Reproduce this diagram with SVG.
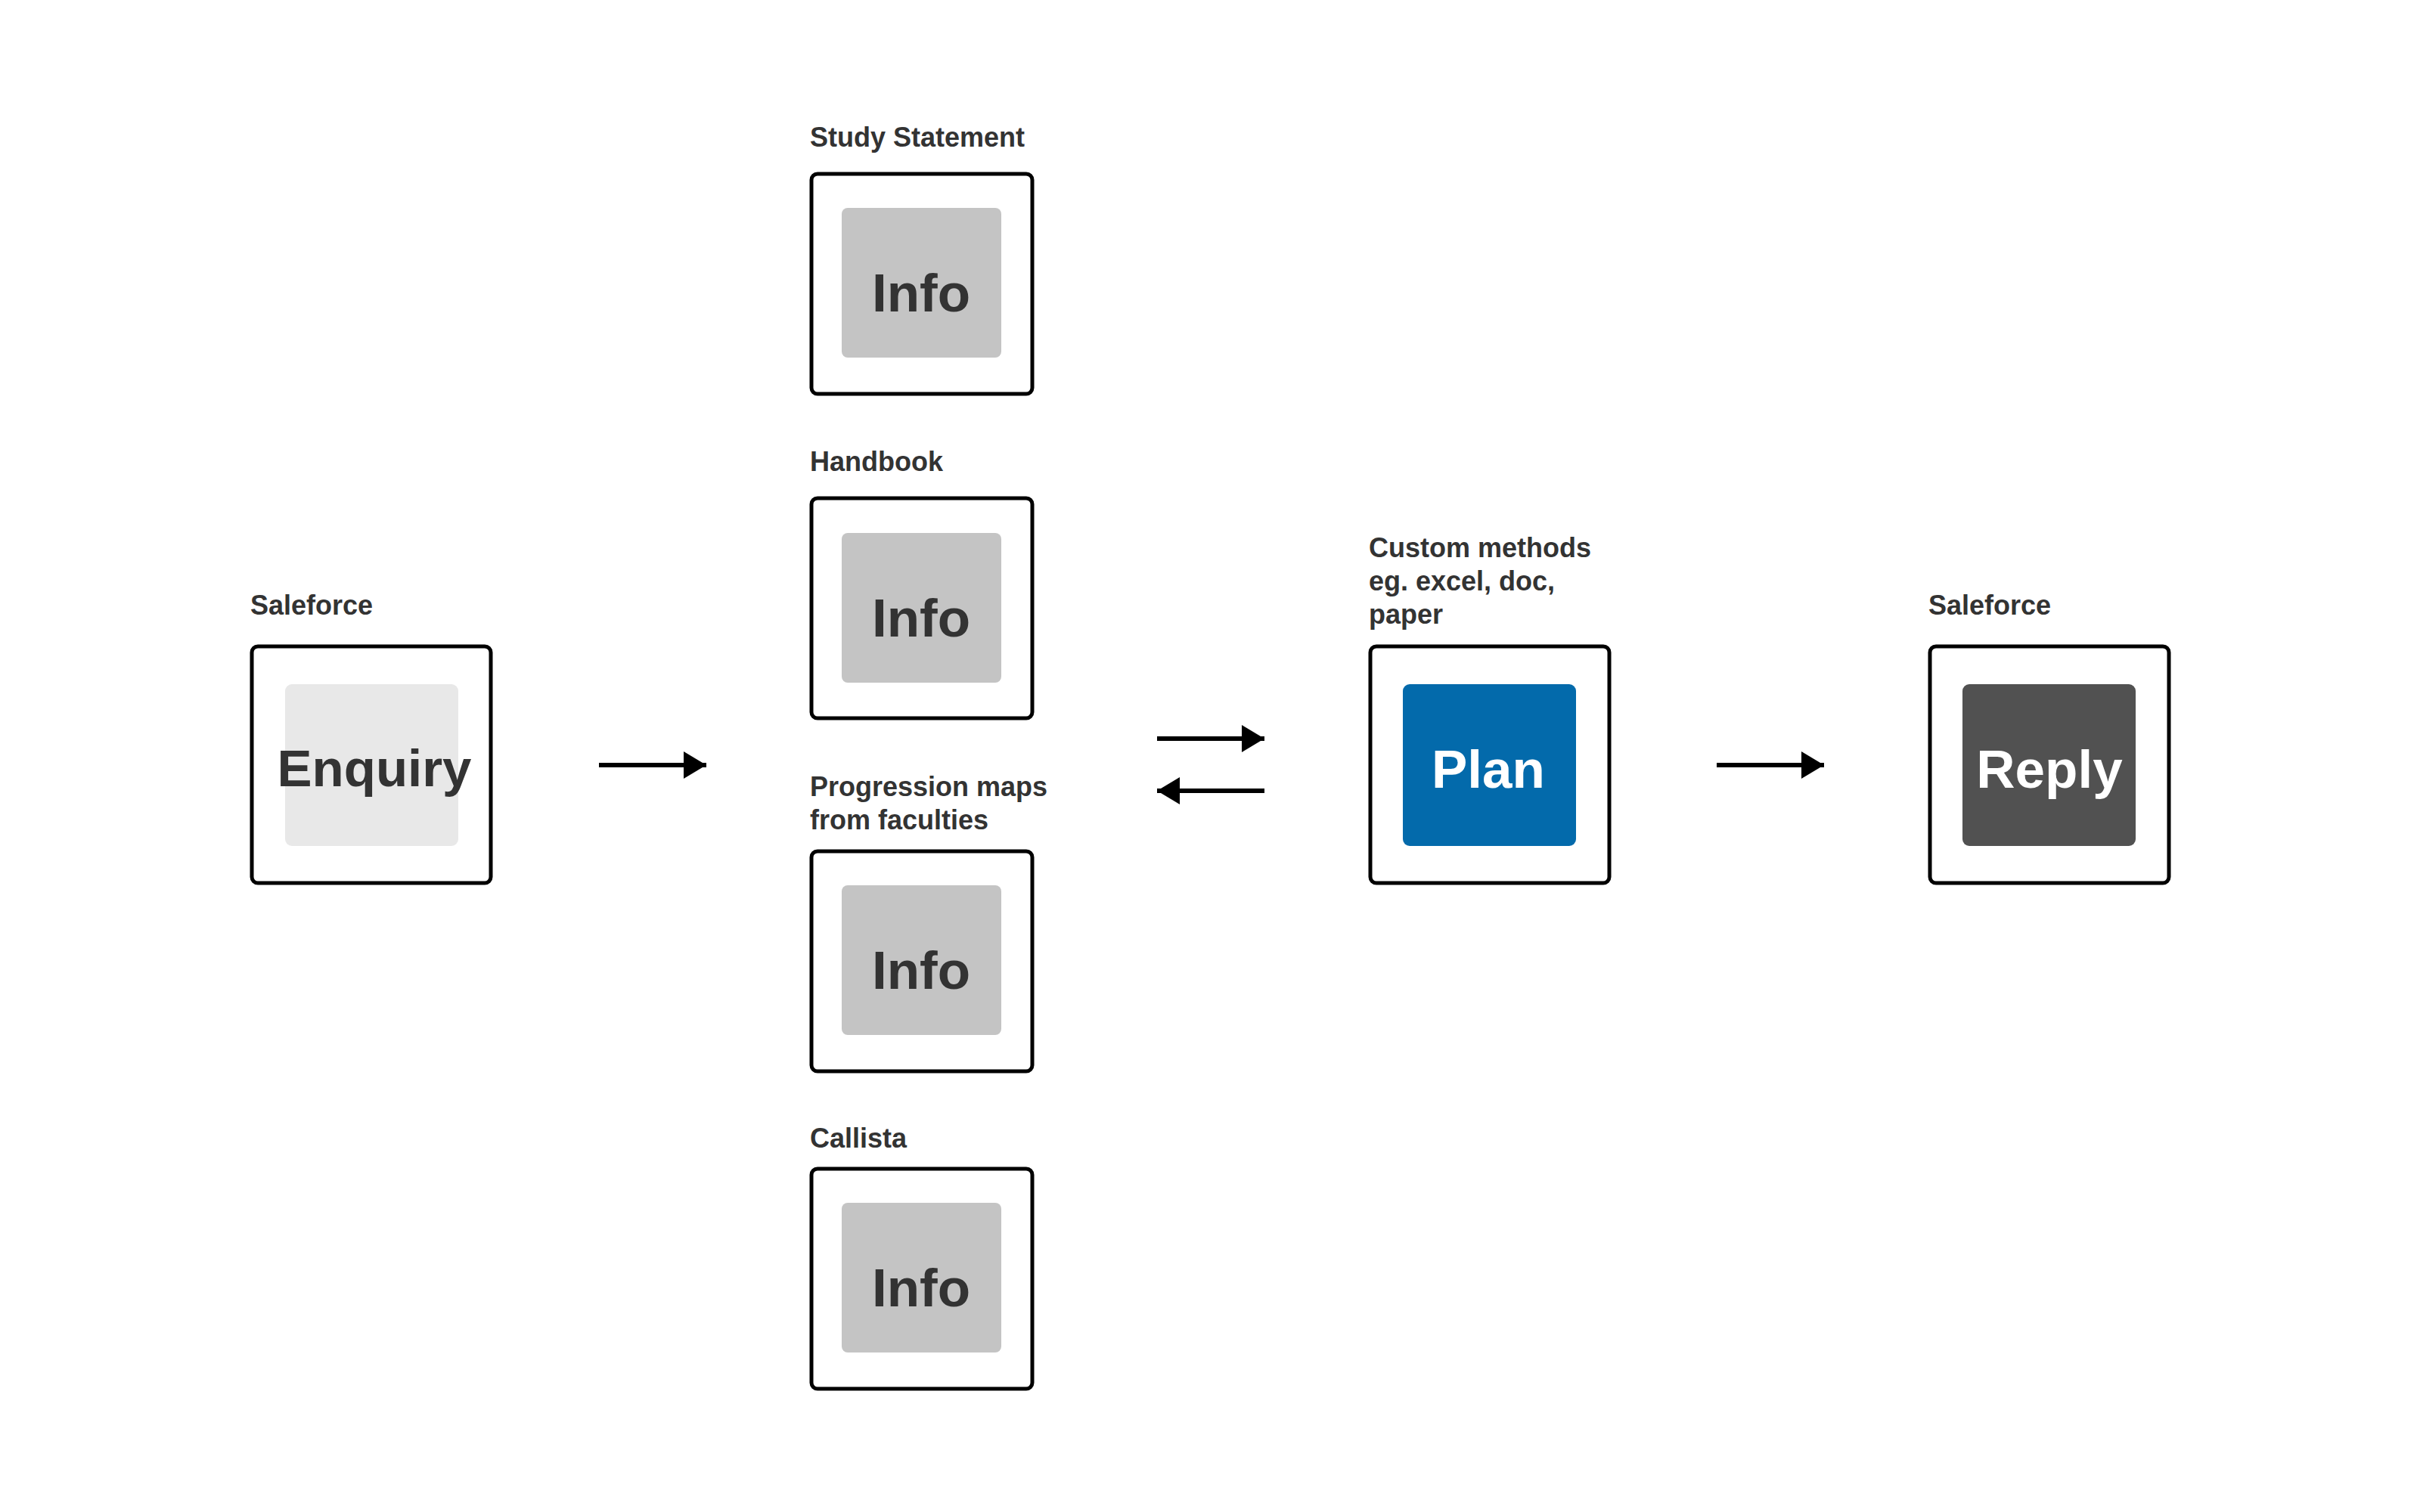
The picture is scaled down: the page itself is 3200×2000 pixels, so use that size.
<svg xmlns="http://www.w3.org/2000/svg" width="3200" height="2000" viewBox="0 0 3200 2000">
<style>
.frame{fill:#ffffff;stroke:#000000;stroke-width:5}
.label{font-family:"Liberation Sans",Arial,sans-serif;font-weight:bold;font-size:36px;fill:#333333}
.big{font-family:"Liberation Sans",Arial,sans-serif;font-weight:bold;font-size:71px;text-anchor:middle}
.info{fill:#c4c4c4}
.conn{stroke:#000000;stroke-width:6;fill:none}
</style>
<defs>
<marker id="ah" markerUnits="userSpaceOnUse" markerWidth="32" markerHeight="36" refX="30" refY="18" orient="auto">
<polygon points="0,0 30,18 0,36" fill="#000000"/>
</marker>
</defs>
<rect width="3200" height="2000" fill="#ffffff"/>
<g id="connectors">
<line class="conn" x1="792" y1="1012" x2="934" y2="1012" marker-end="url(#ah)"/>
<line class="conn" x1="1530" y1="977" x2="1672" y2="977" marker-end="url(#ah)"/>
<line class="conn" x1="1672" y1="1046" x2="1530" y2="1046" marker-end="url(#ah)"/>
<line class="conn" x1="2270" y1="1012" x2="2412" y2="1012" marker-end="url(#ah)"/>
</g>
<g id="node-enquiry">
<text class="label" x="331" y="813">Saleforce</text>
<rect class="frame" x="333" y="855" width="316" height="313" rx="8"/>
<rect x="377" y="905" width="229" height="214" rx="9" fill="#e8e8e8"/>
<text class="big" x="495" y="1040" fill="#333333" style="font-size:69px">Enquiry</text>
</g>
<g id="node-study">
<text class="label" x="1071" y="194">Study Statement</text>
<rect class="frame" x="1073" y="230" width="292" height="291" rx="8"/>
<rect class="info" x="1113" y="275" width="211" height="198" rx="8"/>
<text class="big" x="1218" y="412" fill="#333333">Info</text>
</g>
<g id="node-handbook">
<text class="label" x="1071" y="623">Handbook</text>
<rect class="frame" x="1073" y="659" width="292" height="291" rx="8"/>
<rect class="info" x="1113" y="705" width="211" height="198" rx="8"/>
<text class="big" x="1218" y="842" fill="#333333">Info</text>
</g>
<g id="node-progression">
<text class="label" x="1071" y="1053">Progression maps</text>
<text class="label" x="1071" y="1097">from faculties</text>
<rect class="frame" x="1073" y="1126" width="292" height="291" rx="8"/>
<rect class="info" x="1113" y="1171" width="211" height="198" rx="8"/>
<text class="big" x="1218" y="1308" fill="#333333">Info</text>
</g>
<g id="node-callista">
<text class="label" x="1071" y="1518">Callista</text>
<rect class="frame" x="1073" y="1546" width="292" height="291" rx="8"/>
<rect class="info" x="1113" y="1591" width="211" height="198" rx="8"/>
<text class="big" x="1218" y="1728" fill="#333333">Info</text>
</g>
<g id="node-plan">
<text class="label" x="1810" y="737">Custom methods</text>
<text class="label" x="1810" y="781">eg. excel, doc,</text>
<text class="label" x="1810" y="825">paper</text>
<rect class="frame" x="1812" y="855" width="316" height="313" rx="8"/>
<rect x="1855" y="905" width="229" height="214" rx="9" fill="#036aab"/>
<text class="big" x="1968" y="1042" fill="#ffffff">Plan</text>
</g>
<g id="node-reply">
<text class="label" x="2550" y="813">Saleforce</text>
<rect class="frame" x="2552" y="855" width="316" height="313" rx="8"/>
<rect x="2595" y="905" width="229" height="214" rx="9" fill="#515151"/>
<text class="big" x="2710" y="1042" fill="#ffffff">Reply</text>
</g>
</svg>
